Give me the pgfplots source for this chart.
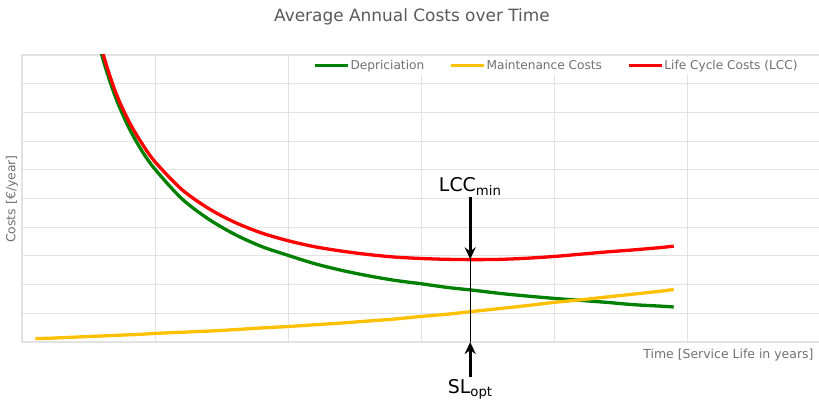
\documentclass[border=0pt]{standalone}
\usepackage{fontspec}
\setmainfont{DejaVu Sans}
\usepackage{pgfplots}
\pgfplotsset{compat=1.18}
\usepackage{pgfplotstable}
\usetikzlibrary{arrows.meta}

\definecolor{dep}{RGB}{0,128,0}
\definecolor{mnt}{RGB}{255,192,0}
\definecolor{lcc}{RGB}{255,0,0}
\definecolor{gridc}{RGB}{226,226,226}
\definecolor{txt}{RGB}{112,112,112}
\definecolor{ttl}{RGB}{90,90,90}

% years, depreciation, maintenance, life cycle costs
\pgfplotstableread{
t  dep   mnt   lcc
1  60.0  0.12  60.1
2  30.0  0.13  30.1
3  20.0  0.15  20.2
4  15.0  0.17  15.2
5  12.0  0.19  12.2
6  10.0  0.21  10.2
7  8.57  0.23  8.75
8  7.50  0.25  7.72
9  6.67  0.27  6.93
10 6.02  0.30  6.28
12 5.00  0.34  5.32
14 4.29  0.38  4.66
16 3.75  0.43  4.17
18 3.33  0.49  3.80
20 3.02  0.54  3.53
22 2.73  0.60  3.32
24 2.50  0.66  3.17
26 2.31  0.73  3.05
28 2.15  0.80  2.96
30 2.03  0.89  2.91
32 1.90  0.97  2.88
34 1.80  1.07  2.87
36 1.69  1.17  2.88
38 1.60  1.27  2.92
40 1.52  1.38  2.98
42 1.45  1.47  3.06
44 1.38  1.57  3.14
46 1.30  1.67  3.21
48 1.25  1.77  3.29
49 1.22  1.83  3.34
}\costs

\begin{document}
\begin{tikzpicture}[x=1bp,y=1bp]
\useasboundingbox (0,0) rectangle (819,402);
\node[text=ttl, font=\fontsize{17}{20}\selectfont] at (412,385) {Average Annual Costs over Time};
\begin{axis}[
    at={(22bp,60bp)}, anchor=south west,
    width=798bp, height=287bp, scale only axis,
    xmin=0, xmax=60, ymin=0, ymax=10,
    xtick={0,10,...,60}, ytick={0,1,...,10},
    xticklabels={}, yticklabels={},
    major tick length=0pt,
    grid=major,
    grid style={gridc, line width=1bp},
    axis line style={gridc, line width=1.2bp},
    legend columns=3,
    legend cell align=left,
    legend style={at={(0.976,0.993)}, anchor=north east,
        draw=none, fill=white, inner sep=2bp,
        font=\fontsize{12.2}{14}\selectfont, text=txt,
        nodes={inner sep=1bp},
        /tikz/every even column/.append style={column sep=24bp}},
    legend image code/.code={\draw[#1] (0bp,0bp) -- (33bp,0bp);},
    every axis plot/.append style={line width=3.3bp, smooth},
]
\addplot[dep] table[x=t, y=dep] {\costs};
\addlegendentry{Depriciation}
\addplot[mnt] table[x=t, y=mnt] {\costs};
\addlegendentry{Maintenance Costs}
\addplot[lcc] table[x=t, y=lcc] {\costs};
\addlegendentry{Life Cycle Costs (LCC)}
\coordinate (opt) at (axis cs:33.7,0);
\coordinate (lmin) at (axis cs:33.7,2.88);
\coordinate (ltop) at (axis cs:33.7,5.05);
\end{axis}
\node[text=txt, rotate=90, font=\fontsize{12.5}{14}\selectfont] at (12,203) {Costs [€/year]};
\node[text=txt, anchor=east, font=\fontsize{12.5}{14}\selectfont] at (817,47) {Time [Service Life in years]};
\draw[line width=1.3bp] (opt) -- (lmin);
\draw[-{Stealth[length=12bp, width=11bp, inset=4bp]}, line width=3bp] (ltop) -- (lmin);
\draw[-{Stealth[length=12bp, width=11bp, inset=4bp]}, line width=3bp] ([yshift=-35bp]opt) -- (opt);
\node[anchor=south, inner sep=1bp, font=\fontsize{19}{22}\selectfont] at (ltop) {LCC\textsubscript{min}};
\node[anchor=north, inner sep=2bp, font=\fontsize{19}{22}\selectfont] at ([yshift=-35bp]opt) {SL\textsubscript{opt}};
\end{tikzpicture}
\end{document}
